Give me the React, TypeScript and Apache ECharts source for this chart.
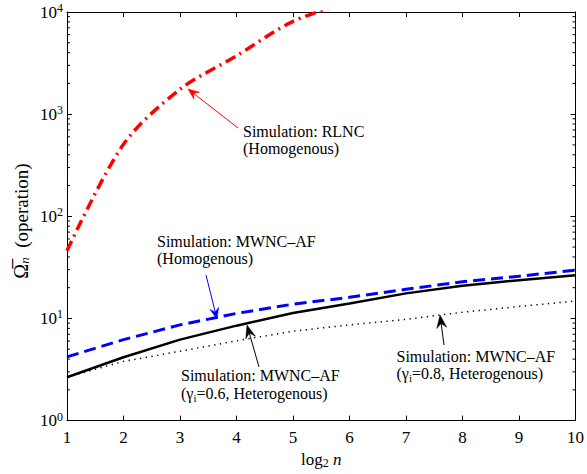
import React, { useEffect, useRef } from "react";
import * as echarts from "echarts";

const xValues = [1, 2, 3, 4, 5, 6, 7, 8, 9, 10];
const rlncHomo = [46, 508, 1750, 3720, 8100, 12500];
const mwncHomo = [4.2, 6.2, 8.65, 11.2, 13.8, 16.1, 19.3, 22.9, 25.9, 29.7];
const mwncHet06 = [2.66, 4.17, 6.2, 8.5, 11.3, 14.0, 17.6, 20.9, 23.7, 26.5];
const mwncHet08 = [2.66, 3.8, 4.77, 6.04, 7.5, 8.65, 9.8, 11.5, 13.1, 14.8];
const minorTickValues = [1, 10, 100, 1000].flatMap((d) => [2, 3, 4, 5, 6, 7, 8, 9].map((m) => m * d));

const FONT = "Liberation Serif";
const FS = 16;
const TICK_FS = 17;

function arrow(tail: number[], tip: number[], color: string, len = 11, half = 4.5) {
  const dx = tip[0] - tail[0];
  const dy = tip[1] - tail[1];
  const L = Math.hypot(dx, dy);
  const ux = dx / L, uy = dy / L;
  const nx = -uy, ny = ux;
  const bx = tip[0] - ux * len, by = tip[1] - uy * len;
  const mx = tip[0] - ux * len * 0.65, my = tip[1] - uy * len * 0.65;
  return [
    { type: "line", shape: { x1: tail[0], y1: tail[1], x2: mx, y2: my }, style: { stroke: color, lineWidth: 1 }, silent: true },
    {
      type: "polygon",
      shape: { points: [tip, [bx + nx * half, by + ny * half], [mx, my], [bx - nx * half, by - ny * half]] },
      style: { fill: color, stroke: color, lineWidth: 0.5 },
      silent: true,
    },
  ];
}

export default function App() {
  const ref = useRef<HTMLDivElement>(null);
  useEffect(() => {
    if (!ref.current) return;
    const chart = echarts.init(ref.current, undefined, { renderer: "svg" });
    const textStyle = { fontFamily: FONT, fontSize: FS, fill: "#000" };
    const subRich = {
      t: { fontFamily: FONT, fontSize: FS, lineHeight: 20, color: "#000" },
      i: { fontFamily: FONT, fontSize: 11, lineHeight: 8, verticalAlign: "bottom", color: "#000" },
    };
    const option: any = {
      animation: false,
      textStyle: { fontFamily: FONT },
      grid: { left: 67, right: 11, top: 12, bottom: 51, containLabel: false },
      xAxis: [
        {
          type: "value",
          min: 1,
          max: 10,
          interval: 1,
          position: "bottom",
          axisLine: { show: true, lineStyle: { color: "#000", width: 1 } },
          axisTick: { show: true, inside: true, length: 5, lineStyle: { color: "#000" } },
          axisLabel: { color: "#000", fontFamily: FONT, fontSize: TICK_FS, margin: 8 },
          splitLine: { show: false },
          name: "{r|log}{s|2}{it| n}",
          nameLocation: "middle",
          nameGap: 14,
          nameTextStyle: {
            rich: {
              r: { fontFamily: FONT, fontSize: TICK_FS, color: "#000", lineHeight: 20 },
              s: { fontFamily: FONT, fontSize: 12, color: "#000", lineHeight: 10, verticalAlign: "bottom" },
              it: { fontFamily: FONT, fontSize: TICK_FS, fontStyle: "italic", color: "#000", lineHeight: 20 },
            },
          },
        },
        {
          type: "value",
          min: 1,
          max: 10,
          interval: 1,
          position: "top",
          axisLine: { show: true, lineStyle: { color: "#000", width: 1 } },
          axisTick: { show: true, inside: true, length: 5, lineStyle: { color: "#000" } },
          axisLabel: { show: false },
          splitLine: { show: false },
        },
      ],
      yAxis: [
        {
          type: "log",
          logBase: 10,
          min: 1,
          max: 10000,
          position: "left",
          axisLine: { show: true, lineStyle: { color: "#000", width: 1 } },
          axisTick: { show: true, inside: true, length: 5, lineStyle: { color: "#000" } },
          axisLabel: {
            margin: 4,
            formatter: (v: number) => `{b|10}{s|${Math.round(Math.log10(v))}}`,
            rich: {
              b: { fontFamily: FONT, fontSize: TICK_FS, color: "#000", lineHeight: 20 },
              s: { fontFamily: FONT, fontSize: 12, color: "#000", lineHeight: 10, verticalAlign: "top" },
            },
          },
          splitLine: { show: false },
        },
        {
          type: "log",
          logBase: 10,
          min: 1,
          max: 10000,
          position: "right",
          axisLine: { show: true, lineStyle: { color: "#000", width: 1 } },
          axisTick: { show: true, inside: true, length: 5, lineStyle: { color: "#000" } },
          axisLabel: { show: false },
          splitLine: { show: false },
        },
      ],
      series: [
        {
          name: "Simulation: RLNC (Homogenous)",
          type: "line",
          data: rlncHomo.map((v, i) => [xValues[i], v]),
          showSymbol: false,
          smooth: 0.3,
          lineStyle: { color: "#ff0000", width: 3.5, type: [11, 5, 2, 5] },
          clip: true,
        },
        {
          name: "Simulation: MWNC-AF (Homogenous)",
          type: "line",
          data: mwncHomo.map((v, i) => [xValues[i], v]),
          showSymbol: false,
          lineStyle: { color: "#0000ff", width: 3, type: [12, 6] },
        },
        {
          name: "Simulation: MWNC-AF (0.6)",
          type: "line",
          data: mwncHet06.map((v, i) => [xValues[i], v]),
          showSymbol: false,
          lineStyle: { color: "#000", width: 2.5, type: "solid" },
        },
        {
          name: "Simulation: MWNC-AF (0.8)",
          type: "line",
          data: mwncHet08.map((v, i) => [xValues[i], v]),
          showSymbol: false,
          lineStyle: { color: "#000", width: 1.5, type: [1.3, 4.5] },
        },
        {
          name: "minorTicks",
          type: "custom",
          silent: true,
          clip: false,
          data: minorTickValues.map((v) => [1, v]),
          encode: { x: 0, y: 1 },
          renderItem: (params: any, api: any) => {
            const v = api.value(1);
            const pl = api.coord([1, v]);
            const pr = api.coord([10, v]);
            return {
              type: "group",
              children: [
                { type: "line", shape: { x1: pl[0], y1: pl[1], x2: pl[0] + 3, y2: pl[1] }, style: { stroke: "#000", lineWidth: 1 } },
                { type: "line", shape: { x1: pr[0] - 3, y1: pr[1], x2: pr[0], y2: pr[1] }, style: { stroke: "#000", lineWidth: 1 } },
              ],
            };
          },
        },
      ],
      graphic: [
        {
          type: "text",
          x: 21,
          y: 221,
          rotation: Math.PI / 2,
          style: {
            text: "{o|Ω\u0305}{n|n}{r|  (operation)}",
            align: "center",
            verticalAlign: "middle",
            rich: {
              o: { fontFamily: FONT, fontSize: 20, color: "#000", lineHeight: 20 },
              n: { fontFamily: FONT, fontSize: 13, fontStyle: "italic", color: "#000", lineHeight: 10, verticalAlign: "bottom" },
              r: { fontFamily: FONT, fontSize: 19, color: "#000", lineHeight: 20 },
            },
          },
          silent: true,
        },
        { type: "text", x: 243, y: 122.5, style: { ...textStyle, text: "Simulation: RLNC\n(Homogenous)", lineHeight: 17 }, silent: true },
        { type: "text", x: 157, y: 232.5, style: { ...textStyle, text: "Simulation: MWNC\u2013AF\n(Homogenous)", lineHeight: 17 }, silent: true },
        { type: "text", x: 181, y: 366.5, style: { ...textStyle, text: "Simulation: MWNC\u2013AF", lineHeight: 17 }, silent: true },
        {
          type: "text",
          x: 181,
          y: 383,
          style: { text: "{t|(γ}{i|i}{t|=0.6, Heterogenous)}", rich: subRich },
          silent: true,
        },
        { type: "text", x: 396.5, y: 348, style: { ...textStyle, text: "Simulation: MWNC\u2013AF", lineHeight: 17 }, silent: true },
        {
          type: "text",
          x: 396.5,
          y: 363,
          style: { text: "{t|(γ}{i|i}{t|=0.8, Heterogenous)}", rich: subRich },
          silent: true,
        },
        ...arrow([238, 128], [188, 89], "#ff0000"),
        ...arrow([206, 275], [217, 319], "#0000ff"),
        ...arrow([259, 367], [247, 325], "#000", 13, 5),
        ...arrow([444, 345], [440, 315], "#000", 13, 5),
      ],
    };
    chart.setOption(option);
    return () => chart.dispose();
  }, []);
  return <div ref={ref} style={{ position: "fixed", left: 0, top: 0, width: 587, height: 474, background: "#fff" }} />;
}
